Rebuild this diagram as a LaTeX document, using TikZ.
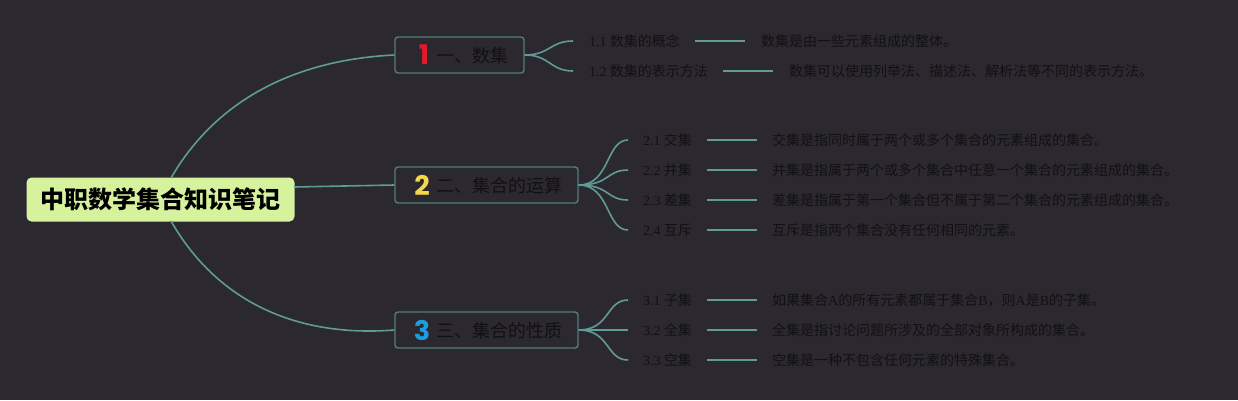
\documentclass[tikz,border=0pt]{standalone}
\usepackage{fontspec}
\setmainfont{Noto Sans CJK SC}
\newfontfamily\lat{Liberation Serif}
\newfontfamily\numfont{Poppins}
\definecolor{bgc}{HTML}{2C2830}
\definecolor{edgec}{HTML}{5E9C95}
\definecolor{boxc}{HTML}{527E7B}
\definecolor{rootc}{HTML}{D6F29C}
\definecolor{txtc}{HTML}{111111}
\definecolor{nred}{HTML}{E5182C}
\definecolor{nyel}{HTML}{F3D84A}
\definecolor{nblu}{HTML}{1E9CE2}
\tikzset{
  rootbox/.style={fill=rootc, rounded corners=5pt, minimum width=268pt, minimum height=44pt, inner sep=0pt,
    font=\fontsize{24}{26}\selectfont\bfseries, text=black},
  branchbox/.style={draw=boxc, line width=1.4pt, fill=bgc, rounded corners=3pt, minimum height=36pt, inner sep=0pt},
  btext/.style={anchor=west, inner sep=0pt, font=\fontsize{18}{20}\selectfont, text=txtc},
  leaf/.style={anchor=west, inner sep=0pt, font=\fontsize{14}{16}\selectfont, text=txtc},
  conn/.style={draw=edgec, line width=1.6pt},
  num/.style={font=\numfont\fontsize{27}{28}\selectfont\bfseries}
}
\begin{document}
\begin{tikzpicture}[x=1pt,y=-1pt]
\fill[bgc] (0,0) rectangle (1238,400);
\useasboundingbox (0,0) rectangle (1238,400);

% root
\node[rootbox] (root) at (160.5,199.5) {中职数学集合知识笔记};
\coordinate (rt) at (171,178);
\coordinate (rb) at (171,221);
\coordinate (rr) at (294,187);

% branches
\node[branchbox, minimum width=129pt] (b1) at (459.5,55) {};
\node[branchbox, minimum width=183pt] (b2) at (486.5,185) {};
\node[branchbox, minimum width=183pt] (b3) at (486.5,330) {};
\node[num, text=nred, anchor=center] (n1) at (424,55) {1};
\node[btext] (t1) at (436,56) {一、数集};
\node[num, text=nyel, anchor=center] (n2) at (422,185) {2};
\node[btext] (t2) at (436,186) {二、集合的运算};
\node[num, text=nblu, anchor=center] (n3) at (422,330) {3};
\node[btext] (t3) at (436,331) {三、集合的性质};

% root connectors
\draw[conn] (rt) .. controls (215,102) and (292,60) .. (b1.west);
\draw[conn] (rr) -- (b2.west);
\draw[conn] (rb) .. controls (215,298) and (292,338) .. (b3.west);

% branch 1 leaves
\node[leaf] (l11) at (589,41) {{\lat 1.1} 数集的概念};
\node[leaf] (l12) at (589,71) {{\lat 1.2} 数集的表示方法};
\coordinate (c11) at (573,41);
\coordinate (c12) at (573,71);
\draw[conn] (b1.east) .. controls (550,55) and (550,41) .. (c11);
\draw[conn] (b1.east) .. controls (550,55) and (550,71) .. (c12);
\coordinate (s11) at (695,41); \coordinate (e11) at (745,41);
\coordinate (s12) at (723,71); \coordinate (e12) at (773,71);
\draw[conn] (s11) -- (e11);
\draw[conn] (s12) -- (e12);
\node[leaf] (d11) at (761,41) {数集是由一些元素组成的整体。};
\node[leaf] (d12) at (789,71) {数集可以使用列举法、描述法、解析法等不同的表示方法。};

% branch 2 leaves
\foreach \i/\y/\lab/\desc in {
  1/140/交集/交集是指同时属于两个或多个集合的元素组成的集合。,
  2/170/并集/并集是指属于两个或多个集合中任意一个集合的元素组成的集合。,
  3/200/差集/差集是指属于第一个集合但不属于第二个集合的元素组成的集合。,
  4/230/互斥/互斥是指两个集合没有任何相同的元素。}{
  \node[leaf] (l2\i) at (643,\y) {{\lat 2.\i} \lab};
  \coordinate (c2\i) at (628,\y);
  \draw[conn] (b2.east) .. controls (610,185) and (606,\y) .. (c2\i);
  \coordinate (s2\i) at (707,\y); \coordinate (e2\i) at (757,\y);
  \draw[conn] (s2\i) -- (e2\i);
  \node[leaf] (d2\i) at (772,\y) {\desc};
}

% branch 3 leaves
\node[leaf] (l31) at (643,300) {{\lat 3.1} 子集};
\node[leaf] (l32) at (643,330) {{\lat 3.2} 全集};
\node[leaf] (l33) at (643,360) {{\lat 3.3} 空集};
\foreach \i/\y in {1/300,2/330,3/360}{
  \coordinate (c3\i) at (628,\y);
  \draw[conn] (b3.east) .. controls (610,330) and (606,\y) .. (c3\i);
  \coordinate (s3\i) at (707,\y); \coordinate (e3\i) at (757,\y);
  \draw[conn] (s3\i) -- (e3\i);
}
\node[leaf] (d31) at (772,300) {如果集合{\lat A}的所有元素都属于集合{\lat B}，则{\lat A}是{\lat B}的子集。};
\node[leaf] (d32) at (772,330) {全集是指讨论问题所涉及的全部对象所构成的集合。};
\node[leaf] (d33) at (772,360) {空集是一种不包含任何元素的特殊集合。};
\end{tikzpicture}
\end{document}
